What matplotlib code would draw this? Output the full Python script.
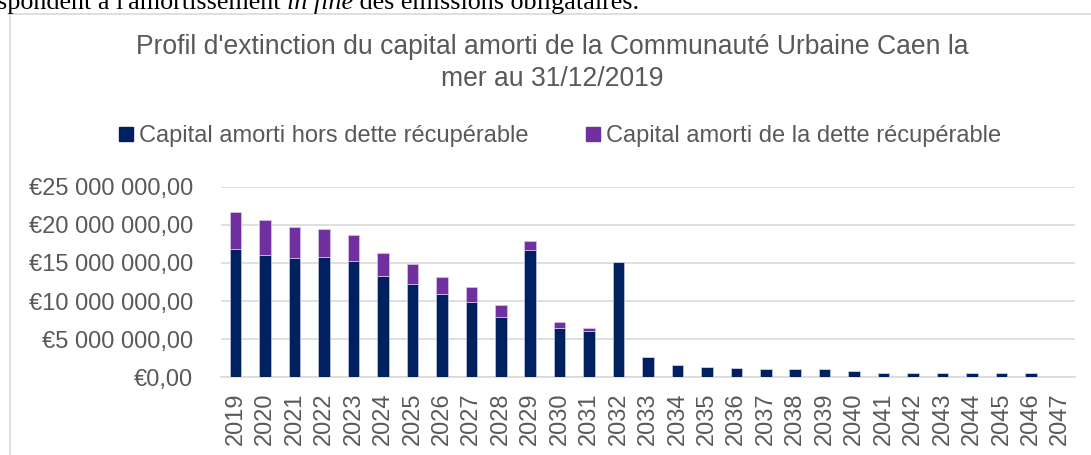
import numpy as np
import matplotlib.pyplot as plt
from matplotlib.lines import Line2D
from matplotlib.ticker import FuncFormatter, MultipleLocator

years = [str(y) for y in range(2019, 2048)]
# capital amorti hors dette récupérable (en €)
hors_dette = np.array([16.79, 16.00, 15.60, 15.74, 15.26, 13.29, 12.18, 10.87, 9.91, 7.97,
                       16.66, 6.49, 6.13, 15.08, 2.69, 1.62, 1.36, 1.18, 1.09, 1.09,
                       1.09, 0.83, 0.57, 0.55, 0.55, 0.57, 0.57, 0.57, 0.10]) * 1e6
# capital amorti de la dette récupérable (en €)
dette_recup = np.array([4.92, 4.60, 4.14, 3.73, 3.42, 3.01, 2.64, 2.29, 1.93, 1.50,
                        1.23, 0.75, 0.36, 0, 0, 0, 0, 0, 0, 0,
                        0, 0, 0, 0, 0, 0, 0, 0, 0]) * 1e6

navy = '#002060'
purple = '#7030A0'
grey_txt = '#595959'
grid_col = '#D9D9D9'
W, H = 1091, 455

plt.rcParams['font.family'] = ['Liberation Sans', 'DejaVu Sans']

fig = plt.figure(figsize=(W / 100, H / 100), dpi=100)
ax = fig.add_axes([221 / W, 1 - 377.3 / H, (1075 - 221) / W, (377.3 - 186.7) / H])

x = np.arange(len(years))
ax.bar(x, hors_dette, width=0.39, color=navy, edgecolor='#c5cbe0', linewidth=0.5, zorder=3)
ax.bar(x, dette_recup, width=0.39, bottom=hors_dette, color=purple,
       edgecolor='#d8c8e8', linewidth=0.5, zorder=3)

ax.set_xlim(-0.5, len(years) - 0.5)
ax.set_ylim(0, 25e6)
ax.yaxis.set_major_locator(MultipleLocator(5e6))


def euro(v, pos):
    s = f'{v:,.2f}'.replace(',', ' ').replace('.', ',')
    return '€' + s


ax.yaxis.set_major_formatter(FuncFormatter(euro))
ax.set_xticks(x)
ax.set_xticklabels(years, rotation=90)
ax.tick_params(axis='both', length=0, labelsize=17, colors=grey_txt)
ax.tick_params(axis='y', pad=20)
ax.tick_params(axis='x', pad=11)
ax.grid(axis='y', color=grid_col, linewidth=1.2, zorder=0)
for s in ['top', 'right', 'left']:
    ax.spines[s].set_visible(False)
ax.spines['bottom'].set_color(grid_col)
ax.spines['bottom'].set_linewidth(1.2)

# titre
fig.text(552 / W, 1 - 34 / H, "Profil d'extinction du capital amorti de la Communauté Urbaine Caen la\nmer au 31/12/2019",
         ha='center', va='top', fontsize=19.1, color=grey_txt, linespacing=1.29)

# légende
handles = [Line2D([], [], marker='s', linestyle='none', markersize=9.4, color=navy),
           Line2D([], [], marker='s', linestyle='none', markersize=9.4, color=purple)]
fig.legend(handles, ['Capital amorti hors dette récupérable', 'Capital amorti de la dette récupérable'],
           loc='center', bbox_to_anchor=(560 / W, 1 - 136 / H), ncol=2, frameon=False,
           fontsize=17, handlelength=0.6, handletextpad=0.25, columnspacing=2.4,
           labelcolor=grey_txt, borderpad=0, borderaxespad=0)

# cadre du graphique
fig.add_artist(Line2D([9.5 / W, 9.5 / W], [0, 1 - 13.5 / H], color=grid_col, lw=1.2))
fig.add_artist(Line2D([9.5 / W, 1], [1 - 13.5 / H, 1 - 13.5 / H], color=grid_col, lw=1.2))

# texte du document au-dessus (coupé comme dans la capture)
fig.canvas.draw()
r = fig.canvas.get_renderer()
xpos = -3
parts = [("spondent à l'amortissement ", 'normal'), ("in fine", 'italic'),
         (" des émissions obligataires.", 'normal')]
for txt, st in parts:
    t = fig.text(xpos / W, 1 - 8.5 / H, txt, ha='left', va='baseline', fontsize=18.8,
                 family='Liberation Serif', style=st, color='black')
    bb = t.get_window_extent(renderer=r)
    xpos = bb.x1

fig.savefig('out.png', dpi=100)
